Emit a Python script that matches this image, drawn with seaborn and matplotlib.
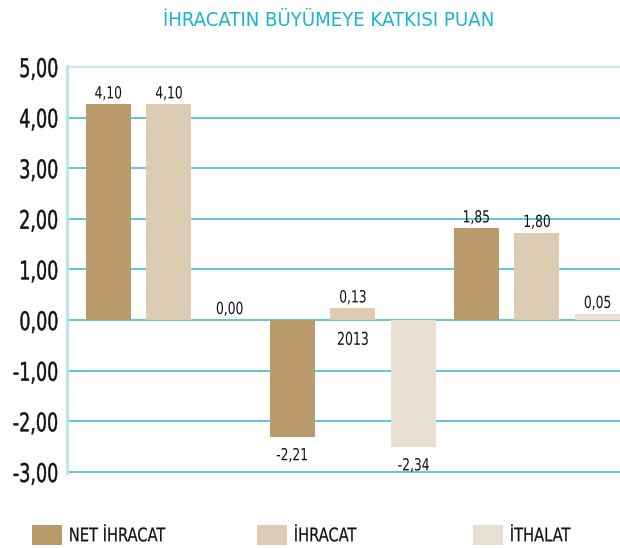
import pandas as pd
import seaborn as sns
import matplotlib.pyplot as plt
from matplotlib.patches import Patch
from matplotlib.patheffects import AbstractPathEffect
from matplotlib.transforms import Affine2D

years = ["2012", "2013", "2014"]
series = ["NET İHRACAT", "İHRACAT", "İTHALAT"]
colors = ["#BA9A6A", "#DCCCB1", "#E9E0D1"]

# bar heights as drawn in the picture
net_ihracat = [4.26, -2.30, 1.81]
ihracat = [4.26, 0.23, 1.72]
ithalat = [0.00, -2.50, 0.12]

# printed value labels
net_labels = ["4,10", "-2,21", "1,85"]
ihr_labels = ["4,10", "0,13", "1,80"]
ith_labels = ["0,00", "-2,34", "0,05"]

yticks = [-3, -2, -1, 0, 1, 2, 3, 4, 5]
ytick_labels = ["-3,00", "-2,00", "-1,00", "0,00", "1,00", "2,00", "3,00", "4,00", "5,00"]

df = pd.DataFrame({
    "yil": years * 3,
    "kalem": [s for s in series for _ in years],
    "deger": net_ihracat + ihracat + ithalat,
})


class Narrow(AbstractPathEffect):
    # squeeze glyphs horizontally (condensed look), optional stroke for weight
    def __init__(self, sx=0.8, anchor="center", stroke=0.0):
        super().__init__()
        self.sx = sx
        self.anchor = anchor
        self.stroke = stroke

    def draw_path(self, renderer, gc, tpath, affine, rgbFace=None):
        ext = tpath.get_extents()
        if self.anchor == "right":
            x0 = ext.x1
        elif self.anchor == "left":
            x0 = ext.x0
        else:
            x0 = (ext.x0 + ext.x1) / 2
        squeeze = Affine2D().translate(-x0, 0).scale(self.sx, 1).translate(x0, 0)
        tr = squeeze + affine
        renderer.draw_path(gc, tpath, tr, rgbFace)
        if self.stroke > 0 and rgbFace is not None:
            gc2 = renderer.new_gc()
            gc2.copy_properties(gc)
            gc2.set_linewidth(self.stroke)
            gc2.set_foreground(rgbFace)
            renderer.draw_path(gc2, tpath, tr, None)
            gc2.restore()


sns.set_style("white")
plt.rcParams["font.family"] = ["DejaVu Sans"]
plt.rcParams["font.stretch"] = "condensed"

grid_color = "#34B9CF"
ink = "#111111"

fig = plt.figure(figsize=(6.2, 5.48), dpi=100)
ax = fig.add_axes([0.108, 0.1369, 0.892, 0.7427])

sns.barplot(data=df, x="yil", y="deger", hue="kalem", hue_order=series,
            order=years, palette=colors, saturation=1, width=0.99, gap=0.26,
            legend=False, errorbar=None, linewidth=0, edgecolor="none",
            ax=ax, zorder=3)

ax.set_xlim(-0.554, 2.452)
ax.set_ylim(-3.02, 5.02)
ax.set_yticks(yticks)
ax.set_yticklabels(ytick_labels, fontsize=18.5, color=ink)
for t in ax.get_yticklabels():
    t.set_path_effects([Narrow(0.76, "right", stroke=0.3)])
ax.tick_params(axis="y", length=0, pad=6)
ax.set_xticks([])
ax.set_xlabel("")
ax.set_ylabel("")
ax.yaxis.grid(True, color=grid_color, linewidth=1.1)
ax.set_axisbelow(True)
# top line is pale like the left rule
ax.get_ygridlines()[-1].set_color("#B5E4EC")
for side in ["top", "right", "bottom"]:
    ax.spines[side].set_visible(False)
ax.spines["left"].set_color("#B5E4EC")
ax.spines["left"].set_linewidth(2)

for cont, labels in zip(ax.containers, [net_labels, ihr_labels, ith_labels]):
    for bar, lab in zip(cont, labels):
        h = bar.get_height()
        xc = bar.get_x() + bar.get_width() / 2
        if h >= 0:
            ax.annotate(lab, (xc, h), xytext=(0, 1.5), textcoords="offset points",
                        ha="center", va="bottom", fontsize=12, color=ink,
                        path_effects=[Narrow(0.82)])
        else:
            ax.annotate(lab, (xc, h), xytext=(0, -7), textcoords="offset points",
                        ha="center", va="top", fontsize=12, color=ink,
                        path_effects=[Narrow(0.82)])

ax.text(1, -0.39, "2013", ha="center", va="center", fontsize=12.8, color=ink,
        path_effects=[Narrow(0.78)])

fig.text(0.53, 0.962, "İHRACATIN BÜYÜMEYE KATKISI PUAN", ha="center", va="center",
         fontsize=14.6, color="#1BB3CF")

legend_x = [32 / 620, 257 / 620, 473 / 620]
for name, col, lx in zip(series, colors, legend_x):
    leg = fig.legend(handles=[Patch(facecolor=col, edgecolor="none")], labels=[name],
                     loc="center left", bbox_to_anchor=(lx, 0.0237), frameon=False,
                     fontsize=13.5, handlelength=1.6, handleheight=1.33,
                     handletextpad=0.35, borderaxespad=0, borderpad=0)
    for t in leg.get_texts():
        t.set_color(ink)
        t.set_path_effects([Narrow(0.87, "left", stroke=0.15)])

fig.savefig("out.png", dpi=100)
